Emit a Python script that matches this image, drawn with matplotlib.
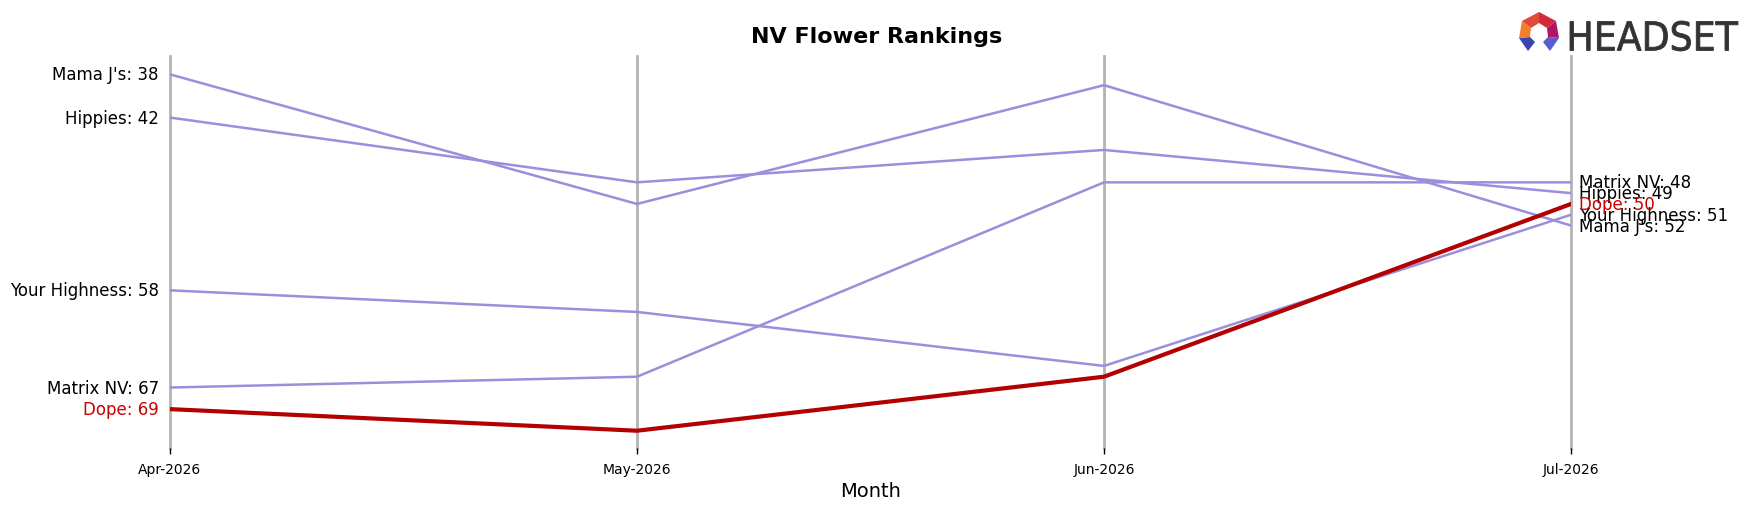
import matplotlib
matplotlib.use("Agg")
import matplotlib.pyplot as plt
from matplotlib.textpath import TextPath
from matplotlib.patches import PathPatch, Polygon
from matplotlib.font_manager import FontProperties
from matplotlib.transforms import Affine2D

months = ["Apr-2026", "May-2026", "Jun-2026", "Jul-2026"]

brands = ["Mama J's", "Hippies", "Your Highness", "Matrix NV", "Dope"]
mama_js = [38, 50, 39, 52]
hippies = [42, 48, 45, 49]
your_highness = [58, 60, 65, 51]
matrix_nv = [67, 66, 48, 48]
dope = [69, 71, 66, 50]
ranks = [mama_js, hippies, your_highness, matrix_nv, dope]
highlight = "Dope"

W, H = 1753, 506
fig = plt.figure(figsize=(W / 100, H / 100), dpi=100)
ax = fig.add_axes([170 / W, 1 - 449 / H, (1571 - 170) / W, (449 - 57) / H])

x = list(range(len(months)))
for xi in x:
    ax.axvline(xi, color="#b3b3b3", lw=2, zorder=0, clip_on=False)

for name, r in zip(brands, ranks):
    if name == highlight:
        col, lw, z = "#b30000", 3, 3
    else:
        col, lw, z = "#9b8edc", 1.8, 2
    ax.plot(x, r, color=col, lw=lw, zorder=z)
    tcol = "#cc0000" if name == highlight else "black"
    ax.annotate(f"{name}: {r[0]}", (x[0], r[0]), xytext=(-8, 0), textcoords="offset points",
                ha="right", va="center", fontsize=12, color=tcol)
    ax.annotate(f"{name}: {r[-1]}", (x[-1], r[-1]), xytext=(6, 0), textcoords="offset points",
                ha="left", va="center", fontsize=12, color=tcol)

ax.set_ylim(72.6, 36.3)
ax.set_xlim(x[0], x[-1])
ax.set_xticks(x)
ax.set_xticklabels(months, fontsize=10)
ax.tick_params(axis="x", length=4, width=1, pad=6)
ax.set_yticks([])
for s in ax.spines.values():
    s.set_visible(False)
ax.set_xlabel("Month", fontsize=14)
fig.text(0.5, 1 - 37 / H, "NV Flower Rankings", ha="center", va="center",
         fontsize=16, fontweight="bold")

# headset logo
fp = FontProperties(family="DejaVu Sans")
tp = TextPath((0, 0), "HEADSET", size=41, prop=fp)
ext = tp.get_extents()
sx = 168 / ext.width
tr = Affine2D().translate(-ext.x0, -ext.y0).scale(sx, 30 / ext.height).translate(1570, H - 52)
fig.patches.append(PathPatch(tr.transform_path(tp), facecolor="#333333", edgecolor="#333333",
                             lw=0.6, transform=None))

cx, cy = 1539, H - 33
hexpts = [(0, 20), (17, 11), (20, -6), (11, -19), (-11, -19), (-20, -6), (-17, 11)]
inner = [(0, 9), (8, 4), (9, -5), (4, -10), (-4, -10), (-9, -5), (-8, 4)]
cols = ["#d42a3c", "#b01566", "#5a5bd0", "#2b3a9c", "#3c44b0", "#f08030", "#e04a3a"]
for i in range(7):
    if i == 3:
        continue
    a, b = hexpts[i], hexpts[(i + 1) % 7]
    c, d = inner[(i + 1) % 7], inner[i]
    pts = [(cx + p[0], cy + p[1]) for p in (a, b, c, d)]
    fig.patches.append(Polygon(pts, closed=True, color=cols[i], lw=0, transform=None))

fig.savefig("out.png", dpi=100)
